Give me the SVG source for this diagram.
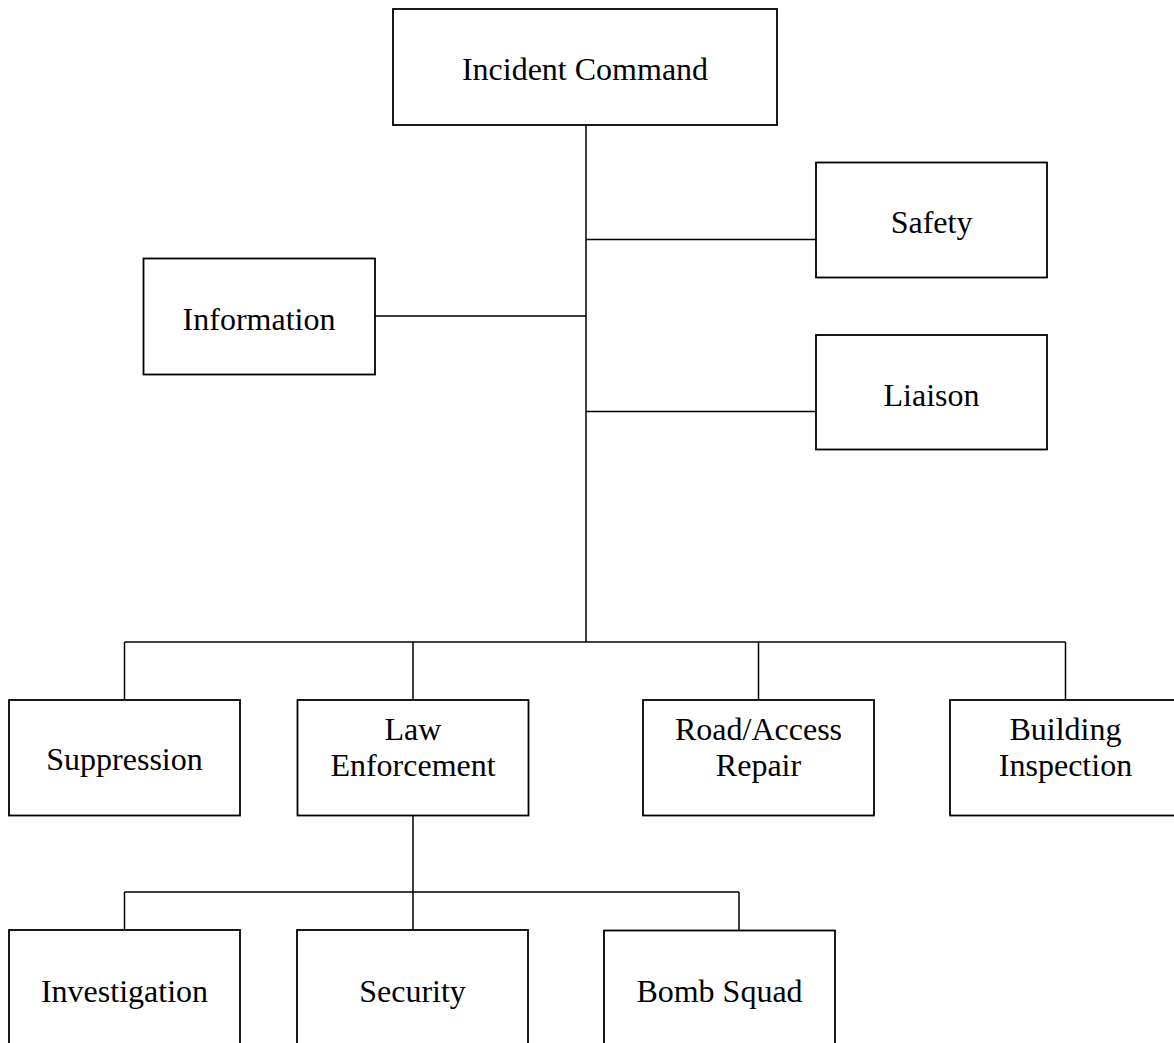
<svg xmlns="http://www.w3.org/2000/svg" width="1174" height="1043" viewBox="0 0 1174 1043">
  <style>
    .box { fill: #ffffff; stroke: #000000; stroke-width: 1.8; }
    .link { fill: none; stroke: #000000; stroke-width: 1.5; }
    .label { font-family: "Liberation Serif", "Times New Roman", serif; font-size: 32px; fill: #000000; text-anchor: middle; }
  </style>
  <rect width="1174" height="1043" fill="#ffffff"/>

  <!-- connectors -->
  <g id="connectors">
    <!-- main trunk from command -->
    <line class="link" x1="586" y1="125" x2="586" y2="642"/>
    <!-- staff branches -->
    <line class="link" x1="586" y1="239.5" x2="816" y2="239.5"/>
    <line class="link" x1="375" y1="316" x2="586" y2="316"/>
    <line class="link" x1="586" y1="411.5" x2="816" y2="411.5"/>
    <!-- section bar -->
    <line class="link" x1="124.5" y1="642" x2="1065.5" y2="642"/>
    <line class="link" x1="124.5" y1="642" x2="124.5" y2="700"/>
    <line class="link" x1="413" y1="642" x2="413" y2="700"/>
    <line class="link" x1="758.5" y1="642" x2="758.5" y2="700"/>
    <line class="link" x1="1065.5" y1="642" x2="1065.5" y2="700"/>
    <!-- law enforcement units -->
    <line class="link" x1="413" y1="815.5" x2="413" y2="930"/>
    <line class="link" x1="124.5" y1="892" x2="739" y2="892"/>
    <line class="link" x1="124.5" y1="892" x2="124.5" y2="930"/>
    <line class="link" x1="739" y1="892" x2="739" y2="930"/>
  </g>

  <g id="incident-command">
    <rect class="box" x="393" y="9" width="384" height="116"/>
    <text class="label" x="585" y="80">Incident Command</text>
  </g>

  <g id="safety">
    <rect class="box" x="816" y="162.5" width="231" height="115"/>
    <text class="label" x="931.5" y="233">Safety</text>
  </g>

  <g id="information">
    <rect class="box" x="143.5" y="258.5" width="231.5" height="116"/>
    <text class="label" x="259" y="330">Information</text>
  </g>

  <g id="liaison">
    <rect class="box" x="816" y="335" width="231" height="114.5"/>
    <text class="label" x="931.5" y="406">Liaison</text>
  </g>

  <g id="suppression">
    <rect class="box" x="9" y="700" width="231" height="115.5"/>
    <text class="label" x="124.5" y="770">Suppression</text>
  </g>

  <g id="law-enforcement">
    <rect class="box" x="297.5" y="700" width="231" height="115.5"/>
    <text class="label" x="413" y="740">Law</text>
    <text class="label" x="413" y="776">Enforcement</text>
  </g>

  <g id="road-access-repair">
    <rect class="box" x="643" y="700" width="231" height="115.5"/>
    <text class="label" x="758.5" y="740">Road/Access</text>
    <text class="label" x="758.5" y="776">Repair</text>
  </g>

  <g id="building-inspection">
    <rect class="box" x="950" y="700" width="231" height="115.5"/>
    <text class="label" x="1065.5" y="740">Building</text>
    <text class="label" x="1065.5" y="776">Inspection</text>
  </g>

  <g id="investigation">
    <rect class="box" x="9" y="930" width="231" height="116"/>
    <text class="label" x="124.5" y="1001.5">Investigation</text>
  </g>

  <g id="security">
    <rect class="box" x="297" y="930" width="231" height="116"/>
    <text class="label" x="412.5" y="1001.5">Security</text>
  </g>

  <g id="bomb-squad">
    <rect class="box" x="604" y="930.5" width="231" height="116"/>
    <text class="label" x="719.5" y="1001.5">Bomb Squad</text>
  </g>
</svg>
